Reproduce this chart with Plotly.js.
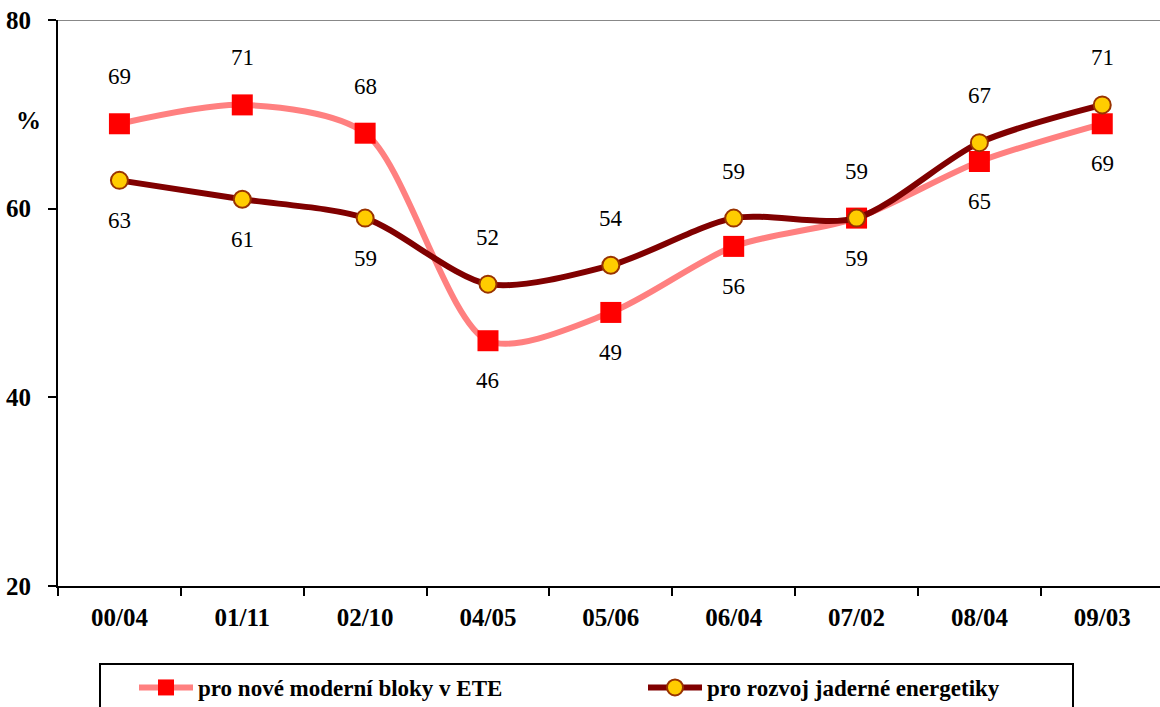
<!DOCTYPE html>
<html>
<head>
<meta charset="utf-8">
<script src="https://cdn.plot.ly/plotly-3.0.1.min.js"></script>
<style>html,body{margin:0;padding:0;background:#fff;}#chart{width:1160px;height:707px;}</style>
</head>
<body>
<div id="chart"></div>
<script>
var categories = ["00/04", "01/11", "02/10", "04/05", "05/06", "06/04", "07/02", "08/04", "09/03"];
var newBlocks = [69, 71, 68, 46, 49, 56, 59, 65, 69];
var nuclearDev = [63, 61, 59, 52, 54, 59, 59, 67, 71];
var seriesNames = ["pro nové moderní bloky v ETE", "pro rozvoj jaderné energetiky"];
var yTicks = [20, 40, 60, 80];

var serif = "Liberation Serif";

var traces = [
  {
    x: categories, y: newBlocks, name: seriesNames[0], type: "scatter", mode: "lines+markers",
    line: {color: "#FF8080", width: 6, shape: "spline", smoothing: 0.8},
    marker: {symbol: "square", size: 21, color: "#FF0000", line: {width: 0}},
    hoverinfo: "skip"
  },
  {
    x: categories, y: nuclearDev, name: seriesNames[1], type: "scatter", mode: "lines+markers",
    line: {color: "#800000", width: 6, shape: "spline", smoothing: 0.8},
    marker: {symbol: "circle", size: 17, color: "#FFCC00", line: {width: 2, color: "#993300"}},
    hoverinfo: "skip"
  }
];

var annotations = [];
categories.forEach(function (c, i) {
  var a = newBlocks[i], b = nuclearDev[i];
  var aUp = a > b;
  annotations.push({x: c, y: a, text: String(a), showarrow: false, yshift: aUp ? 47 : -40,
    font: {family: serif, size: 23, color: "#000"}});
  annotations.push({x: c, y: b, text: String(b), showarrow: false, yshift: aUp ? -40 : 47,
    font: {family: serif, size: 23, color: "#000"}});
});
annotations.push({xref: "paper", yref: "paper", x: -0.027, y: (586 - 120) / 566, xanchor: "center", yanchor: "middle",
  text: "<b>%</b>", showarrow: false, font: {family: serif, size: 25, color: "#000"}});

function px2x(p) { return (p - 58) / 1102; }
function py2y(p) { return (586 - p) / 566; }

var layout = {
  width: 1160, height: 707,
  margin: {l: 58, r: 0, t: 20, b: 121},
  paper_bgcolor: "#fff", plot_bgcolor: "#fff",
  font: {family: serif, color: "#000"},
  showlegend: true,
  xaxis: {
    type: "category", range: [-0.5, 8.47],
    showline: true, linecolor: "#000", linewidth: 2,
    ticks: "outside", tickson: "boundaries", ticklen: 8, tickwidth: 2, tickcolor: "#000",
    ticklabelstandoff: 8,
    showgrid: false, zeroline: false,
    tickfont: {family: serif, size: 25, color: "#000", weight: "bold"}
  },
  yaxis: {
    range: [20, 80], tickvals: yTicks, ticktext: yTicks.map(function (v) { return "<b>" + v + "</b>"; }),
    showline: true, linecolor: "#000", linewidth: 2,
    ticks: "outside", ticklen: 8, tickwidth: 2, tickcolor: "#000",
    ticklabelstandoff: 12,
    showgrid: false, zeroline: false,
    tickfont: {family: serif, size: 25, color: "#000"}
  },
  shapes: [
    {type: "line", xref: "paper", yref: "y", x0: 0, x1: 1, y0: 80, y1: 80,
      line: {color: "#888", width: 2}},
    {type: "rect", xref: "paper", yref: "paper", x0: px2x(100), x1: px2x(1073), y0: py2y(664), y1: py2y(730),
      line: {color: "#000", width: 2}, fillcolor: "rgba(0,0,0,0)"}
  ],
  annotations: annotations,
  legend: {
    orientation: "h", xref: "container", yref: "container", x: 134 / 1160, y: 1 - 666 / 707,
    xanchor: "left", yanchor: "top",
    borderwidth: 0, bgcolor: "rgba(0,0,0,0)",
    font: {family: serif, size: 23, color: "#000", weight: "bold"},
    itemwidth: 54, entrywidth: 440, entrywidthmode: "pixels",
    traceorder: "normal", itemsizing: "trace"
  }
};

Plotly.newPlot("chart", traces, layout, {displayModeBar: false, staticPlot: true});
</script>
</body>
</html>
